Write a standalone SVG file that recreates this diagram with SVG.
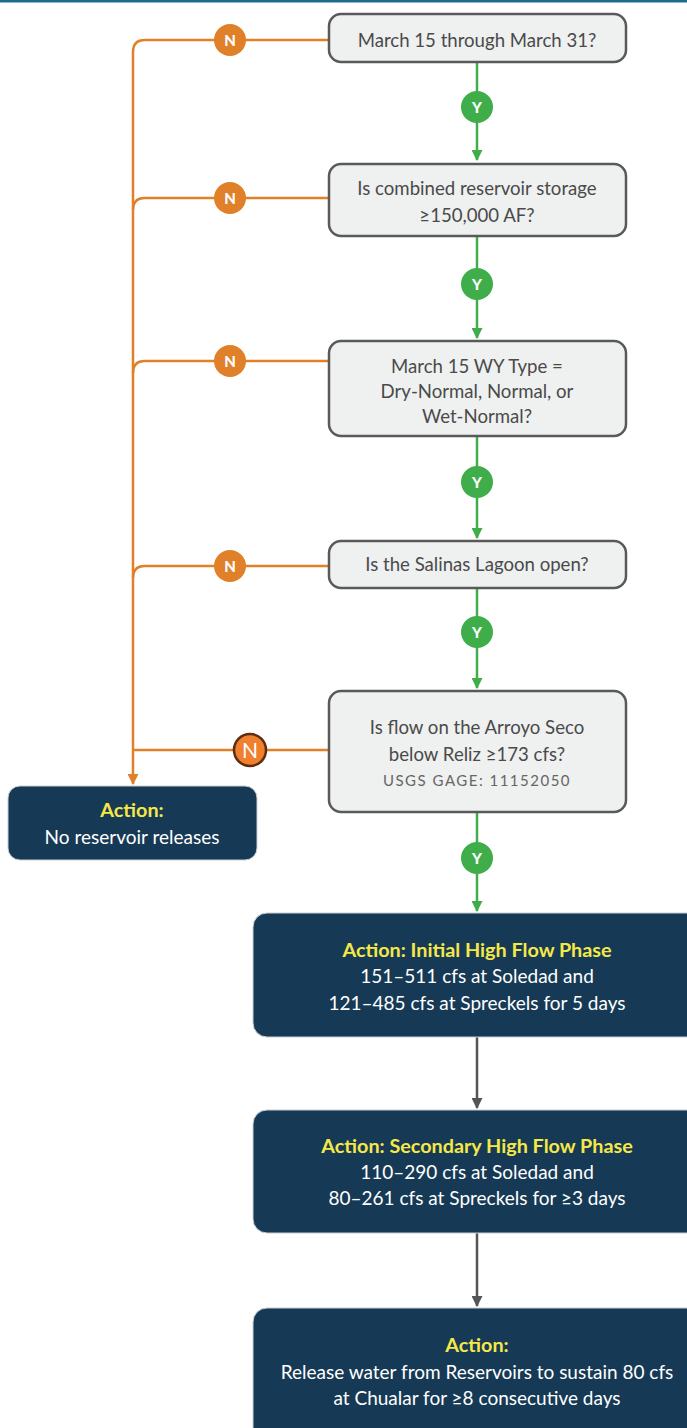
<svg xmlns="http://www.w3.org/2000/svg" width="687" height="1428" viewBox="0 0 687 1428">
<style>
.q{fill:#eff0f0;stroke:#595959;stroke-width:2.5}
.qt{font-family:Lato,"Liberation Sans",sans-serif;font-size:18.6px;fill:#4a4a4a;text-anchor:middle}
.qs{font-family:Lato,"Liberation Sans",sans-serif;font-size:15px;letter-spacing:1.5px;fill:#666;text-anchor:middle}
.a{fill:#163a55;stroke:#c9ced3;stroke-width:1}
.ah{font-family:Lato,"Liberation Sans",sans-serif;font-size:19.8px;font-weight:bold;fill:#f6e847;text-anchor:middle}
.at{font-family:Lato,"Liberation Sans",sans-serif;font-size:19px;fill:#ffffff;text-anchor:middle}
.o{fill:none;stroke:#e08028;stroke-width:2.5}
.g{fill:none;stroke:#3fae4a;stroke-width:2.5}
.k{fill:none;stroke:#555;stroke-width:2.5}
.nc{fill:#e08028}
.yc{fill:#3fae4a}
.lb{font-family:Lato,"Liberation Sans",sans-serif;font-size:15px;font-weight:900;fill:#fff;text-anchor:middle}
</style>
<defs>
<marker id="mo" viewBox="0 0 10 10" refX="9" refY="5" markerWidth="4.4" markerHeight="4.4" orient="auto" markerUnits="strokeWidth"><path d="M0,0 L10,5 L0,10 z" fill="#e08028"/></marker>
<marker id="mg" viewBox="0 0 10 10" refX="9" refY="5" markerWidth="4.4" markerHeight="4.4" orient="auto" markerUnits="strokeWidth"><path d="M0,0 L10,5 L0,10 z" fill="#3fae4a"/></marker>
<marker id="mk" viewBox="0 0 10 10" refX="9" refY="5" markerWidth="4.4" markerHeight="4.4" orient="auto" markerUnits="strokeWidth"><path d="M0,0 L10,5 L0,10 z" fill="#555"/></marker>
</defs>
<rect x="0" y="0" width="687" height="2.5" fill="#1f6b8c"/>
<g id="connectors">
<path class="o" d="M329,40 H145 Q133,40 133,52 V784" marker-end="url(#mo)"/>
<path class="o" d="M329,198 H145 Q133,198 133,210"/>
<path class="o" d="M329,361 H145 Q133,361 133,373"/>
<path class="o" d="M329,566 H145 Q133,566 133,578"/>
<path class="o" d="M329,750 H133"/>
<path class="g" d="M477,62 V160" marker-end="url(#mg)"/>
<path class="g" d="M477,236 V338" marker-end="url(#mg)"/>
<path class="g" d="M477,436 V538" marker-end="url(#mg)"/>
<path class="g" d="M477,588 V688" marker-end="url(#mg)"/>
<path class="g" d="M477,812 V911" marker-end="url(#mg)"/>
<path class="k" d="M477,1037 V1108" marker-end="url(#mk)"/>
<path class="k" d="M477,1233 V1306" marker-end="url(#mk)"/>
<circle class="nc" cx="230" cy="40" r="16"/><text class="lb" x="230" y="45.5">N</text>
<circle class="nc" cx="230" cy="198" r="16"/><text class="lb" x="230" y="203.5">N</text>
<circle class="nc" cx="230" cy="361" r="16"/><text class="lb" x="230" y="366.5">N</text>
<circle class="nc" cx="230" cy="566" r="16"/><text class="lb" x="230" y="571.5">N</text>
<circle cx="250" cy="750" r="16" fill="#f07f2e" stroke="#5e2d10" stroke-width="2.5"/><text x="250" y="757.5" font-family="Lato,'Liberation Sans',sans-serif" font-size="21" fill="#fff" text-anchor="middle">N</text>
<circle class="yc" cx="477" cy="107" r="16"/><text class="lb" x="477" y="112.5">Y</text>
<circle class="yc" cx="477" cy="284" r="16"/><text class="lb" x="477" y="289.5">Y</text>
<circle class="yc" cx="477" cy="482" r="16"/><text class="lb" x="477" y="487.5">Y</text>
<circle class="yc" cx="477" cy="632" r="16"/><text class="lb" x="477" y="637.5">Y</text>
<circle class="yc" cx="477" cy="858" r="16"/><text class="lb" x="477" y="863.5">Y</text>
</g>
<g id="q1"><rect class="q" x="329" y="14" width="297" height="48" rx="12"/><text class="qt" x="477" y="47">March 15 through March 31?</text></g>
<g id="q2"><rect class="q" x="329" y="164" width="297" height="72" rx="12"/><text class="qt" x="477" y="195">Is combined reservoir storage</text><text class="qt" x="477" y="222">≥150,000 AF?</text></g>
<g id="q3"><rect class="q" x="329" y="341" width="297" height="95" rx="12"/><text class="qt" x="477" y="373">March 15 WY Type =</text><text class="qt" x="477" y="398">Dry-Normal, Normal, or</text><text class="qt" x="477" y="423">Wet-Normal?</text></g>
<g id="q4"><rect class="q" x="329" y="541" width="297" height="47" rx="12"/><text class="qt" x="477" y="571">Is the Salinas Lagoon open?</text></g>
<g id="q5"><rect class="q" x="329" y="691" width="297" height="121" rx="12"/><text class="qt" x="477" y="734">Is flow on the Arroyo Seco</text><text class="qt" x="477" y="761">below Reliz ≥173 cfs?</text><text class="qs" x="477" y="786">USGS GAGE: 11152050</text></g>
<g id="a0"><rect class="a" x="8" y="786" width="249" height="74" rx="12"/><text class="ah" x="132" y="817">Action:</text><text class="at" x="132" y="844">No reservoir releases</text></g>
<g id="a1"><rect class="a" x="253" y="913" width="480" height="124" rx="14"/><text class="ah" x="477" y="957">Action: Initial High Flow Phase</text><text class="at" x="477" y="983">151–511 cfs at Soledad and</text><text class="at" x="477" y="1010">121–485 cfs at Spreckels for 5 days</text></g>
<g id="a2"><rect class="a" x="253" y="1110" width="480" height="123" rx="14"/><text class="ah" x="477" y="1153">Action: Secondary High Flow Phase</text><text class="at" x="477" y="1179">110–290 cfs at Soledad and</text><text class="at" x="477" y="1205">80–261 cfs at Spreckels for ≥3 days</text></g>
<g id="a3"><rect class="a" x="253" y="1308" width="480" height="140" rx="14"/><text class="ah" x="477" y="1352">Action:</text><text class="at" x="477" y="1379">Release water from Reservoirs to sustain 80 cfs</text><text class="at" x="477" y="1405">at Chualar for ≥8 consecutive days</text></g>
</svg>
